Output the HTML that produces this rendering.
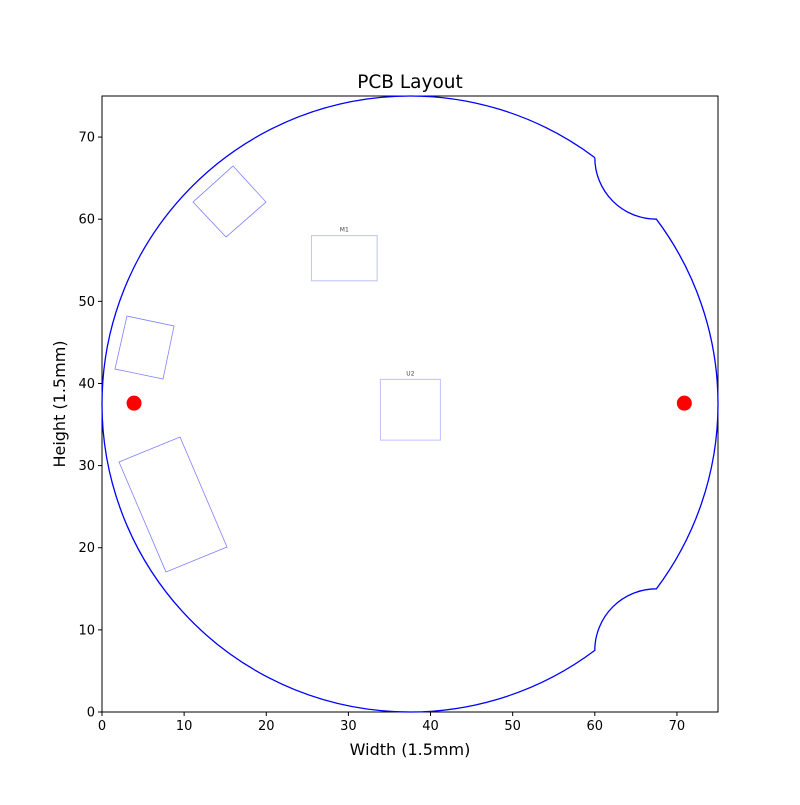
<!DOCTYPE html>
<html><head><meta charset="utf-8"><style>
body{margin:0;background:#fff;}
svg text{font-family:"DejaVu Sans","Liberation Sans",sans-serif;}
</style></head><body>
<svg id="c" width="800" height="800" xmlns="http://www.w3.org/2000/svg"></svg>
<script>
const xTicks=[0,10,20,30,40,50,60,70];
const yTicks=[0,10,20,30,40,50,60,70];
const boardRadius=37.5;
const boardCenter=[37.5,37.5];
const notchRadius=7.5;
const componentNames=["diamond-part","left-square-part","large-rect-part"];
const diamondPts=[[15.95,66.48],[19.97,62.09],[15.10,57.83],[11.08,62.09]];
const squarePts=[[3.04,48.21],[8.77,47.0],[7.43,40.54],[1.58,41.76]];
const bigPts=[[9.50,33.48],[15.22,20.09],[7.79,17.05],[2.07,30.44]];
const rectLabels=["M1","U2"];
const rectBoxes=[[25.5,52.5,8,5.5],[33.9,33.1,7.3,7.4]];
const holes=[[3.9,37.6],[70.9,37.6]];

const L=102,R=718,T=96,B=712;
const sx=v=>L+(v-0)/75*(R-L);
const sy=v=>B-(v-0)/75*(B-T);
const k=(R-L)/75;
const svg=document.getElementById('c');
const NS="http://www.w3.org/2000/svg";
function mk(t,a,p){const e=document.createElementNS(NS,t);for(const q in a)e.setAttribute(q,a[q]);(p||svg).appendChild(e);return e;}

let e=mk('rect',{x:L,y:T,width:R-L,height:B-T,fill:'none',stroke:'#000','stroke-width':1});



// board outline
const cx=boardCenter[0],cy=boardCenter[1],r=boardRadius;
const dy=notchRadius*4; // 30
const dx=Math.sqrt(r*r-dy*dy); // 22.5 -> x=60
const p1=[cx+dx,cy+dy],p2=[cx+dy,cy+dx]; // (60,67.5),(67.5,60)
const p3=[cx+dy,cy-dx],p4=[cx+dx,cy-dy]; // (67.5,15),(60,7.5)
const rp=r*k,nr=notchRadius*k;
let d=`M${sx(p1[0])},${sy(p1[1])} A${rp},${rp} 0 1 0 ${sx(p4[0])},${sy(p4[1])}`+
` A${nr},${nr} 0 0 1 ${sx(p3[0])},${sy(p3[1])}`+
` A${rp},${rp} 0 0 0 ${sx(p2[0])},${sy(p2[1])}`+
` A${nr},${nr} 0 0 1 ${sx(p1[0])},${sy(p1[1])}`;
e=mk('path',{d:d,fill:'none',stroke:'#0000ff','stroke-width':1.3});



[diamondPts,squarePts,bigPts].forEach((pts,i)=>{
  const el=mk('polygon',{points:pts.map(p=>sx(p[0])+','+sy(p[1])).join(' '),fill:'none',stroke:'#8080ff','stroke-width':0.8});
  
  
});
rectBoxes.forEach((b,i)=>{
  const el=mk('rect',{x:sx(b[0]),y:sy(b[1]+b[3]),width:b[2]*k,height:b[3]*k,fill:'none',stroke:'#c0c0ff','stroke-width':1});
  
  
  const t=mk('text',{x:sx(b[0]+b[2]/2),y:sy(b[1]+b[3])-4,'text-anchor':'middle','font-size':6,fill:'#444'});
  t.textContent=rectLabels[i];
  
  
});
holes.forEach((h,i)=>{
  const el=mk('circle',{cx:sx(h[0]),cy:sy(h[1]),r:7.5,fill:'#ff0000'});
  
  
});
xTicks.forEach(v=>{
  mk('line',{x1:sx(v),x2:sx(v),y1:B,y2:B+4,stroke:'#000'});
  const t=mk('text',{x:sx(v),y:B+18,'text-anchor':'middle','font-size':13});
  t.textContent=v;
  
  
});
yTicks.forEach(v=>{
  mk('line',{x1:L-4,x2:L,y1:sy(v),y2:sy(v),stroke:'#000'});
  const t=mk('text',{x:L-7,y:sy(v)+4.5,'text-anchor':'end','font-size':13});
  t.textContent=v;
  
  
});
let t=mk('text',{x:410,y:88,'text-anchor':'middle','font-size':18.5});
t.textContent='PCB Layout';


t=mk('text',{x:410,y:755,'text-anchor':'middle','font-size':16});
t.textContent='Width (1.5mm)';


t=mk('text',{x:65,y:404,'text-anchor':'middle','font-size':16,transform:'rotate(-90 65 404)'});
t.textContent='Height (1.5mm)';


</script>
</body></html>
